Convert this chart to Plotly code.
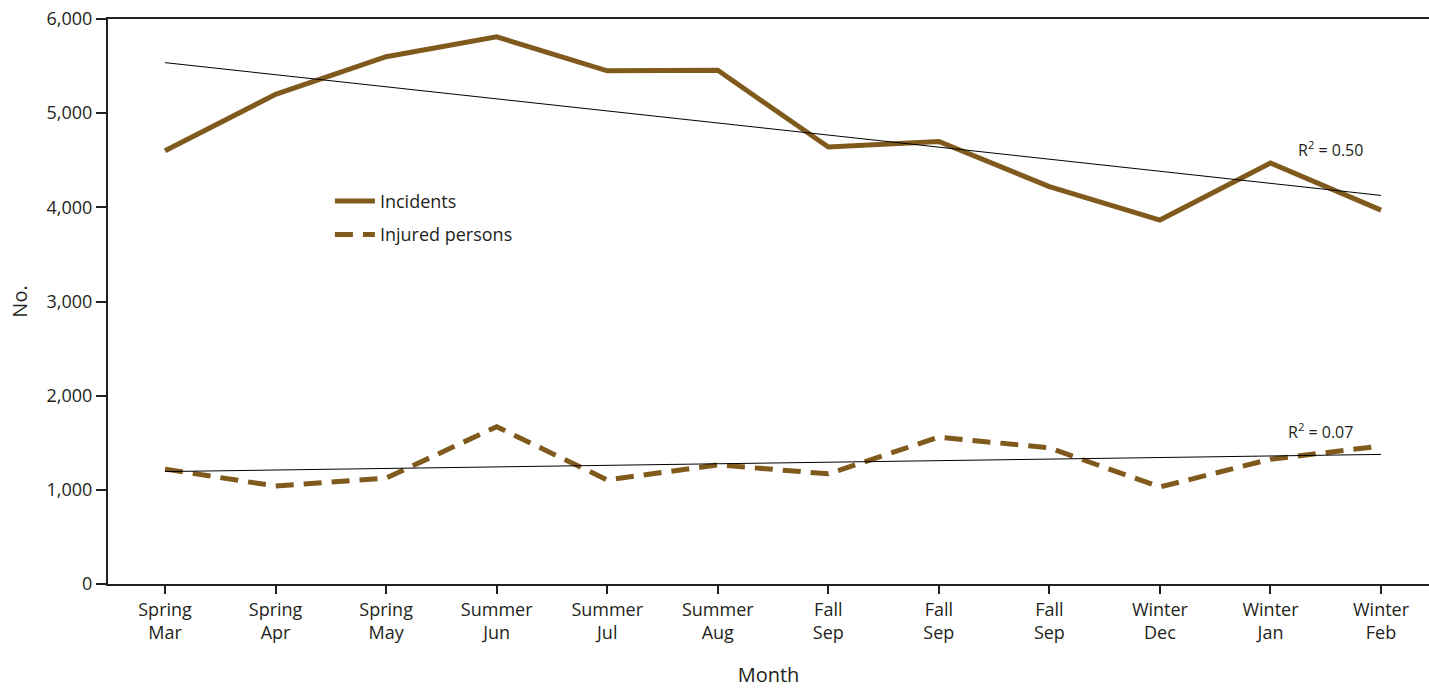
import numpy as np
import plotly.graph_objects as go

seasons = ["Spring", "Spring", "Spring", "Summer", "Summer", "Summer",
           "Fall", "Fall", "Fall", "Winter", "Winter", "Winter"]
months = ["Mar", "Apr", "May", "Jun", "Jul", "Aug",
          "Sep", "Sep", "Sep", "Dec", "Jan", "Feb"]
incidents = [4600, 5200, 5600, 5810, 5450, 5455, 4640, 4700, 4220, 3865, 4470, 3970]
injured = [1220, 1040, 1125, 1670, 1105, 1265, 1170, 1560, 1445, 1030, 1325, 1465]
r2_labels = ["R<sup>2</sup> = 0.50", "R<sup>2</sup> = 0.07"]

x = np.arange(len(months))
tick_text = [f"{s}<br>{m}" for s, m in zip(seasons, months)]

BROWN = "#805a1c"
INK = "#231f20"
FONT = "Open Sans, Liberation Sans, sans-serif"

def trend(y):
    k, b = np.polyfit(x, y, 1)
    return k * x + b

fig = go.Figure()
fig.add_trace(go.Scatter(x=x, y=incidents, mode="lines", name="Incidents",
                         legendgroup="a",
                         line=dict(color=BROWN, width=5)))
fig.add_trace(go.Scatter(x=x, y=injured, mode="lines", name="Injured persons",
                         legendgroup="b",
                         line=dict(color=BROWN, width=5, dash="18px,10px")))
fig.add_trace(go.Scatter(x=x, y=trend(np.array(incidents)), mode="lines",
                         line=dict(color="black", width=1), showlegend=False, hoverinfo="skip"))
fig.add_trace(go.Scatter(x=x, y=trend(np.array(injured)), mode="lines",
                         line=dict(color="black", width=1), showlegend=False, hoverinfo="skip"))

fig.add_annotation(x=10.54, y=4620, text=r2_labels[0], showarrow=False,
                   font=dict(size=16, color=INK, family=FONT))
fig.add_annotation(x=10.45, y=1630, text=r2_labels[1], showarrow=False,
                   font=dict(size=16, color=INK, family=FONT))

fig.update_layout(
    width=1429, height=688,
    margin=dict(l=108, r=0, t=19, b=104),
    plot_bgcolor="white", paper_bgcolor="white",
    font=dict(family=FONT, color=INK, size=18),
    legend=dict(x=0.168, y=0.71, xanchor="left", yanchor="top",
                bgcolor="rgba(0,0,0,0)", font=dict(size=18, color=INK, family=FONT),
                itemwidth=40, tracegroupgap=7),
    xaxis=dict(range=[-0.516, 11.434], tickvals=x, ticktext=tick_text,
               showline=True, linecolor=INK, linewidth=2, mirror=True,
               ticks="outside", ticklen=8, tickwidth=2, tickcolor=INK,
               showgrid=False, zeroline=False,
               title=dict(text="Month", font=dict(size=20), standoff=28),
               tickfont=dict(size=18)),
    yaxis=dict(range=[0, 6000], tickvals=[0, 1000, 2000, 3000, 4000, 5000, 6000],
               tickformat=",d",
               showline=True, linecolor=INK, linewidth=2,
               ticks="outside", ticklen=10, tickwidth=2, tickcolor=INK,
               showgrid=False, zeroline=False,
               title=dict(text="No.", font=dict(size=20), standoff=14),
               tickfont=dict(size=18)),
)

fig.write_html("out.html")
